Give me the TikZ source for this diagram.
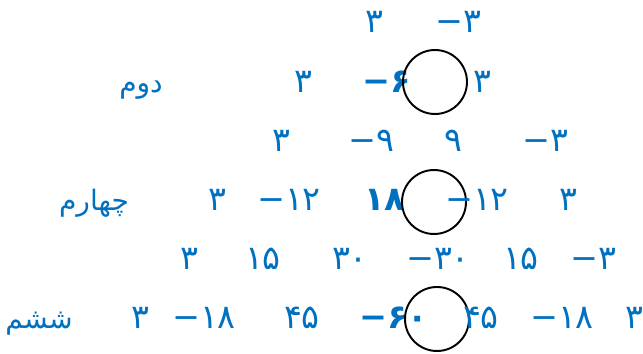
\documentclass[tikz,border=0pt]{standalone}
\usepackage{fontspec}
\newfontfamily\fafont[Script=Arabic]{DejaVu Sans}
\newfontfamily\latfont{DejaVu Sans}
\newcommand{\mns}{{\latfont −}}
\TeXXeTstate=1
\definecolor{coefblue}{HTML}{0070C0}
\begin{document}
\begin{tikzpicture}[x=0.02cm,y=-0.02cm,
  coef/.style={text=coefblue,anchor=base,inner sep=0pt,font=\fafont\fontsize{19}{22}\selectfont},
  big/.style={coef,font=\fafont\bfseries\fontsize{19}{22}\selectfont},
  word/.style={coef,font=\fafont\fontsize{16}{18}\selectfont},
  ring/.style={draw,circle,line width=1.1pt,minimum size=1.28cm,inner sep=0pt}]

\useasboundingbox (0,0) rectangle (643,354);

% Ligne 1
\node[coef] (a1) at (374,33) {۳};
\node[coef] (a2) at (458,33) {\mns۳};

% Ligne 2
\node[word] (lbl2) at (141,93) {\beginR دوم\endR};
\node[coef] (b1) at (303,93) {۳};
\node[big] (b2) at (387,93) {\mns۶};
\node[ring] (c2) at (435,82) {};
\node[coef] (b3) at (482,93) {۳};

% Ligne 3
\node[coef] (d1) at (281,152) {۳};
\node[coef] (d2) at (371,152) {\mns۹};
\node[coef] (d3) at (453,152) {۹};
\node[coef] (d4) at (545,152) {\mns۳};

% Ligne 4
\node[word] (lbl4) at (94,211) {\beginR چهارم\endR};
\node[coef] (e1) at (217,211) {۳};
\node[coef] (e2) at (289,211) {\mns۱۲};
\node[big] (e3) at (385,211) {۱۸};
\node[ring] (c4) at (434,202) {};
\node[coef] (e4) at (477,211) {\mns۱۲};
\node[coef] (e5) at (568,211) {۳};

% Ligne 5
\node[coef] (f1) at (189,270) {۳};
\node[coef] (f2) at (263,270) {۱۵};
\node[coef] (f3) at (350,270) {۳۰};
\node[coef] (f4) at (438,270) {\mns۳۰};
\node[coef] (f5) at (521,270) {۱۵};
\node[coef] (f6) at (593,270) {\mns۳};

% Ligne 6
\node[word] (lbl6) at (39,329) {\beginR ششم\endR};
\node[coef] (g1) at (140,329) {۳};
\node[coef] (g2) at (204,329) {\mns۱۸};
\node[coef] (g3) at (302,329) {۴۵};
\node[big] (g4) at (394,329) {\mns۶۰};
\node[ring] (c6) at (437,319) {};
\node[coef] (g5) at (481,329) {۴۵};
\node[coef] (g6) at (562,329) {\mns۱۸};
\node[coef] (g7) at (634,329) {۳};

\end{tikzpicture}
\end{document}
